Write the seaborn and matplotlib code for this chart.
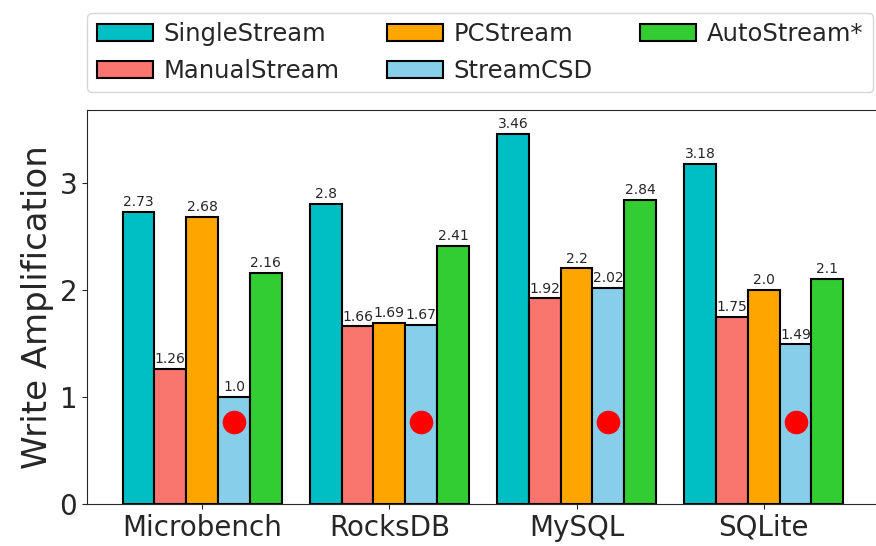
import pandas as pd
import seaborn as sns
import matplotlib.pyplot as plt


# -------------------------------------------------
# DATA
# -------------------------------------------------

benchmarks = ["Microbench", "RocksDB", "MySQL", "SQLite"]
methods = ["SingleStream", "ManualStream", "PCStream", "StreamCSD", "AutoStream*"]

single_stream = [2.73, 2.8, 3.46, 3.18]
manual_stream = [1.26, 1.66, 1.92, 1.75]
pc_stream = [2.68, 1.69, 2.2, 2.0]
stream_csd = [1.0, 1.67, 2.02, 1.49]
auto_stream = [2.16, 2.41, 2.84, 2.1]

# red markers drawn on the StreamCSD bars
marker_values = [0.77, 0.77, 0.77, 0.77]

colors = ["#00BFC4", "#F8766D", "#FFA500", "#87CEEB", "#32CD32"]


# -------------------------------------------------
# BUILD TABLE
# -------------------------------------------------

series = [single_stream, manual_stream, pc_stream, stream_csd, auto_stream]

rows = []
for method, vals in zip(methods, series):
    for bench, v in zip(benchmarks, vals):
        rows.append({"Benchmark": bench, "Method": method, "WA": v})

df = pd.DataFrame(rows)


# -------------------------------------------------
# PLOT
# -------------------------------------------------

sns.set_style("ticks")

fig = plt.figure(figsize=(8.76, 5.46), dpi=100)
ax = fig.add_axes([0.0993, 0.0769, 0.904, 0.7216])

sns.barplot(
    data=df,
    x="Benchmark",
    y="WA",
    hue="Method",
    palette=colors,
    saturation=1,
    edgecolor="black",
    linewidth=1.5,
    width=0.85,
    ax=ax
)

# value labels on top of each bar
for container, vals in zip(ax.containers, series):
    ax.bar_label(container, labels=[str(v) for v in vals], fontsize=10, padding=2)

# red dots on StreamCSD bars
csd_bars = ax.containers[methods.index("StreamCSD")]
dot_x = [b.get_x() + b.get_width() / 2 for b in csd_bars]
ax.plot(dot_x, marker_values, "o", color="red", markersize=16, linestyle="none")

ax.set_xlim(-0.615, 3.615)
ax.set_ylim(0, 3.68)
ax.set_yticks([0, 1, 2, 3])
ax.set_xlabel("")
ax.set_ylabel("Write Amplification", fontsize=24.5)
ax.tick_params(axis="both", labelsize=20)

leg = ax.legend(
    loc="lower left",
    bbox_to_anchor=(0, 1.045),
    borderaxespad=0,
    ncol=3,
    fontsize=17.5,
    handlelength=2.3,
    handletextpad=0.45,
    columnspacing=1.95,
    frameon=True
)

fig.savefig("out.png", dpi=100)
plt.close()
